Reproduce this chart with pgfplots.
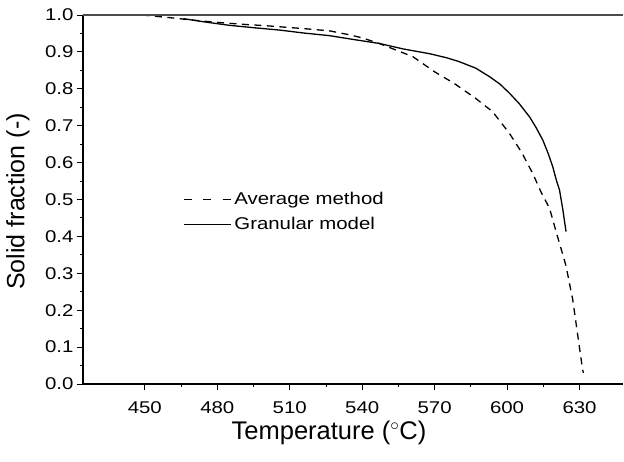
\documentclass[border=0pt]{standalone}
\usepackage{pgfplots}
\pgfplotsset{compat=1.18}
\usepackage{fontspec}
\setmainfont{Liberation Sans}
\newfontfamily\widefont{Liberation Sans}[FakeStretch=1.2]
\begin{document}
\begin{tikzpicture}
\begin{axis}[
  at={(0,0)}, anchor=south west,
  scale only axis, width=540bp, height=369bp,
  xmin=424.4, xmax=648, ymin=0, ymax=1,
  axis x line*=bottom, axis y line*=left,
  axis line style={-, line width=1.2bp, black},
  xtick={450,480,510,540,570,600,630}, minor x tick num=1,
  ytick={0,0.1,0.2,0.3,0.4,0.5,0.6,0.7,0.8,0.9,1.0}, minor y tick num=1,
  tick align=outside, major tick length=6bp, minor tick length=3bp,
  tick style={black, line width=0.9bp},
  /pgf/number format/assume math mode=true,
  ticklabel style={font=\widefont\fontsize{17bp}{20bp}\selectfont},
  xticklabel style={yshift=-8bp},
  yticklabel={\pgfmathprintnumber[fixed, fixed zerofill, precision=1]{\tick}},
  xticklabel={\pgfmathprintnumber[fixed, precision=0, 1000 sep={}]{\tick}},
  every axis x label/.style={at={(axis description cs:0.5,0)}, yshift=-49bp, xshift=-24bp, anchor=center},
  every axis y label/.style={at={(axis description cs:0,0.5)}, xshift=-65bp, yshift=-2bp, rotate=90, anchor=center},
  xlabel style={font=\fontsize{25.5bp}{29bp}\selectfont},
  ylabel style={font=\fontsize{25bp}{29bp}\selectfont},
  xlabel={Temperature ($^{\circ}$C)},
  ylabel={Solid fraction (-)},
  legend style={at={(axis description cs:0.185,0.528)}, anchor=north west, draw=none, fill=none,
    font=\widefont\fontsize{17bp}{20bp}\selectfont, row sep=5.5bp, inner sep=0pt,
    nodes={inner sep=3bp}},
  legend image code/.code={\draw[#1] (0bp,0bp) -- (47bp,0bp);},
  legend cell align=left,
]
\addlegendimage{black, line width=1.3bp, dash pattern=on 8bp off 11.5bp}
\addlegendentry{Average method}
\addlegendimage{black, line width=1.3bp}
\addlegendentry{Granular model}
\addplot[black, line width=1.3bp, dash pattern=on 7bp off 5.5bp, forget plot] coordinates {
(449,1.000) (460,0.993) (470,0.986) (480,0.980) (490,0.975) (500,0.971)
(506,0.968) (516,0.963) (526.5,0.957) (535,0.946) (540,0.938) (547,0.923)
(554,0.905) (561,0.887) (570,0.846) (578,0.815) (587,0.774) (594,0.738)
(601,0.679) (606,0.628) (610.6,0.571) (614,0.521) (617.6,0.476) (620.5,0.408)
(623.1,0.350) (624.4,0.320) (627.2,0.228) (629.3,0.130) (631.3,0.038) (631.6,0.030)
};
\addplot[black, line width=1.3bp, forget plot] coordinates {
(466,0.990) (475,0.981) (485,0.972) (496,0.965) (506,0.959) (516,0.951)
(526.5,0.944) (537,0.933) (547,0.923) (557,0.908) (568,0.895) (575,0.884)
(580,0.874) (587,0.856) (592.7,0.833) (597,0.813) (601,0.788) (605,0.760)
(609.3,0.724) (612,0.695) (614.8,0.661) (617,0.625) (618.9,0.589) (620.5,0.550)
(621.7,0.526) (623.1,0.472) (624.4,0.413)
};
\draw[gray!60!black, line width=1.5bp] (rel axis cs:0,1) -- (rel axis cs:1,1);
\end{axis}
\pgfresetboundingbox
\useasboundingbox (-83bp,-78bp) rectangle (541bp,384bp);
\end{tikzpicture}
\end{document}
